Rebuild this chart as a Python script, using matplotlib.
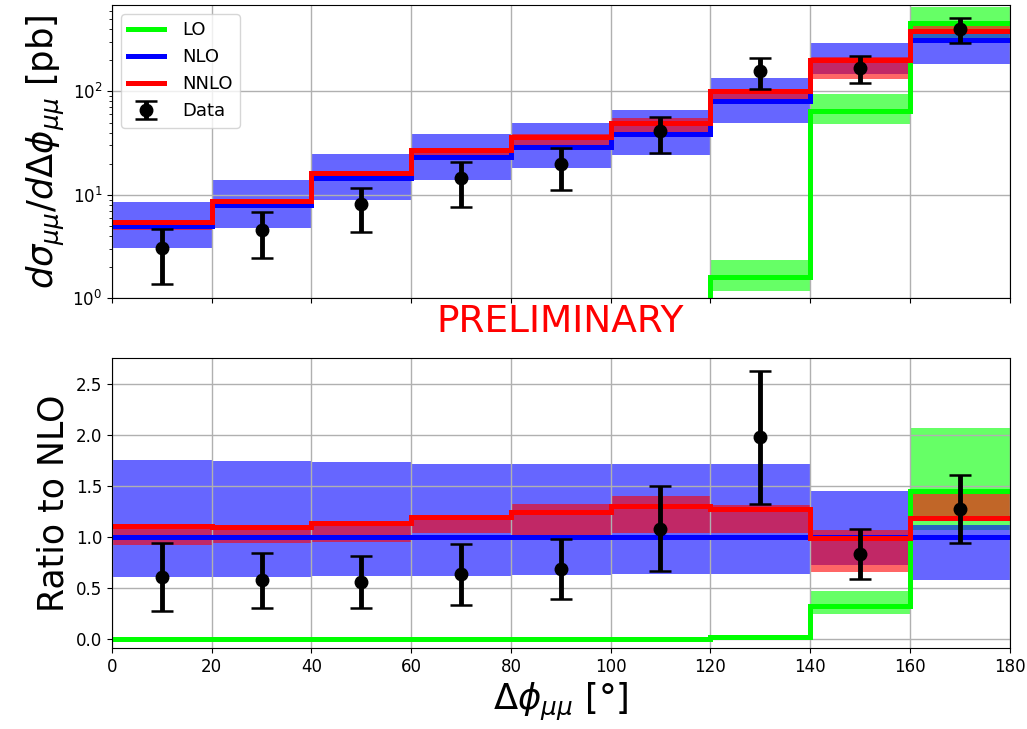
import numpy as np
import matplotlib
matplotlib.use('Agg')
import matplotlib.pyplot as plt

# ---------------------------------- data ---------------------------------- #
edges = np.arange(0, 181, 20)

# top panel: cross sections [pb]
lo_xs      = [0, 0, 0, 0, 0, 0, 1.6, 64, 457]
lo_xs_dn   = [0, 0, 0, 0, 0, 0, 1.17, 48.9, 332]
lo_xs_up   = [0, 0, 0, 0, 0, 0, 2.34, 93.5, 660]
nlo_xs     = [5.0, 7.9, 14.6, 23.4, 29.2, 39.1, 80, 200, 315]
nlo_xs_dn  = [3.06, 4.78, 8.94, 14.0, 18.3, 24.5, 50, 146, 183]
nlo_xs_up  = [8.55, 14.0, 25.0, 39.1, 50, 65.4, 134, 292, 357]
nnlo_xs    = [5.47, 8.74, 16.4, 27.3, 36.6, 50, 102, 200, 380]
nnlo_xs_dn = [4.6, 7.6, 13.9, 24.3, 29.8, 40.8, 83.4, 132, 375]
nnlo_xs_up = [5.6, 9.0, 16.7, 28.1, 38.7, 54.9, 105, 214, 431]
data_xs    = [3.06, 4.57, 8.18, 14.6, 20, 41.8, 156, 167, 400]
data_xs_up = [4.67, 6.8, 11.7, 20.9, 28.6, 57.2, 209, 219, 511]
data_xs_dn = [1.37, 2.44, 4.37, 7.64, 11.2, 25.6, 105, 120, 297]

# bottom panel: ratio to NLO
lo_r       = [0, 0, 0, 0, 0, 0, 0.02, 0.322, 1.457]
lo_r_dn    = [0, 0, 0, 0, 0, 0, 0.015, 0.243, 1.07]
lo_r_up    = [0, 0, 0, 0, 0, 0, 0.03, 0.473, 2.07]
nlo_r      = [1, 1, 1, 1, 1, 1, 1, 1, 1]
nlo_r_dn   = [0.604, 0.61, 0.617, 0.617, 0.624, 0.634, 0.637, 0.725, 0.578]
nlo_r_up   = [1.759, 1.752, 1.736, 1.716, 1.716, 1.719, 1.716, 1.454, 1.12]
nnlo_r     = [1.112, 1.102, 1.142, 1.2, 1.25, 1.309, 1.274, 0.994, 1.185]
nnlo_r_dn  = [0.92, 0.94, 0.95, 1.04, 1.02, 1.043, 1.043, 0.66, 1.2]
nnlo_r_up  = [1.12, 1.11, 1.15, 1.217, 1.326, 1.404, 1.316, 1.07, 1.42]
data_r     = [0.604, 0.578, 0.561, 0.637, 0.686, 1.08, 1.979, 0.834, 1.277]
data_r_up  = [0.942, 0.847, 0.817, 0.932, 0.984, 1.503, 2.628, 1.08, 1.61]
data_r_dn  = [0.272, 0.305, 0.305, 0.335, 0.388, 0.666, 1.326, 0.591, 0.945]

colors = {'LO': '#00ff00', 'NLO': '#0000ff', 'NNLO': '#ff0000'}
centers = 0.5 * (edges[:-1] + edges[1:])


def draw_panel(ax, preds, data, dup, ddn):
    # bands first, then central lines, then data
    for name, (c, dn, up) in preds.items():
        ax.stairs(up, edges, baseline=dn, fill=True, color=colors[name],
                  alpha=0.6, lw=0, zorder=1)
    for name, (c, dn, up) in preds.items():
        ax.stairs(c, edges, baseline=None, color=colors[name], lw=3.6,
                  label=name, zorder=2)
    data = np.array(data)
    yerr = [data - np.array(ddn), np.array(dup) - data]
    ax.errorbar(centers, data, yerr=yerr, fmt='o', color='k', ms=9,
                elinewidth=3.5, capsize=8, capthick=1.8, label='Data',
                zorder=5)
    ax.grid(True, color='#b0b0b0', lw=1.0, zorder=1.5)
    ax.set_xlim(0, 180)
    ax.set_xticks(edges)
    ax.tick_params(labelsize=12)


fig = plt.figure(figsize=(10.27, 7.29), dpi=100)
ax1 = fig.add_axes([0.109, 0.591, 0.874, 0.402])
ax2 = fig.add_axes([0.109, 0.111, 0.874, 0.398])

draw_panel(ax1, {'LO': (lo_xs, lo_xs_dn, lo_xs_up),
                 'NLO': (nlo_xs, nlo_xs_dn, nlo_xs_up),
                 'NNLO': (nnlo_xs, nnlo_xs_dn, nnlo_xs_up)},
           data_xs, data_xs_up, data_xs_dn)
ax1.set_yscale('log')
ax1.set_ylim(1, 684)
ax1.tick_params(labelbottom=False)
ax1.set_ylabel(r'$d\sigma_{\mu\mu}/d\Delta\phi_{\mu\mu}$ [pb]', fontsize=25.5)
ax1.legend(loc='upper left', fontsize=13, handletextpad=1.0)

draw_panel(ax2, {'LO': (lo_r, lo_r_dn, lo_r_up),
                 'NLO': (nlo_r, nlo_r_dn, nlo_r_up),
                 'NNLO': (nnlo_r, nnlo_r_dn, nnlo_r_up)},
           data_r, data_r_up, data_r_dn)
ax2.set_ylim(-0.09, 2.76)
ax2.set_yticks([0.0, 0.5, 1.0, 1.5, 2.0, 2.5])
ax2.set_ylabel('Ratio to NLO', fontsize=25)
ax2.set_xlabel(r'$\Delta\phi_{\mu\mu}$ [°]', fontsize=25.5)

fig.text(0.545, 1 - 322 / 729, 'PRELIMINARY', color='red', fontsize=27,
         ha='center', va='center')

plt.savefig('out.png', dpi=100)
